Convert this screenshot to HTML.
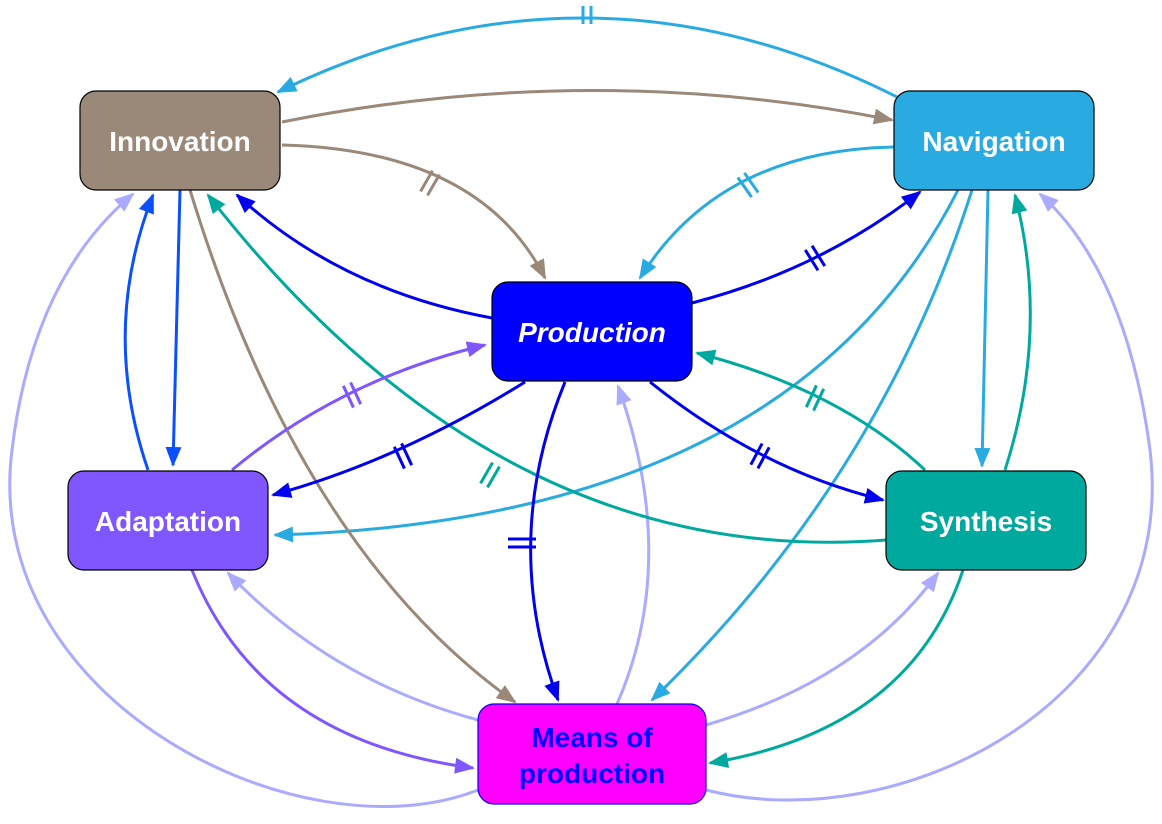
<!DOCTYPE html>
<html><head><meta charset="utf-8"><style>
body{margin:0;background:#fff;}
svg{display:block;}
.n{stroke:#000;stroke-width:1.2;}
text{font-family:"Liberation Sans",sans-serif;font-size:28px;font-weight:bold;fill:#fff;text-anchor:middle;}
path{fill:none;stroke-width:3;}
.t line{stroke-width:3;}
</style></head><body>
<svg width="1162" height="824" viewBox="0 0 1162 824" xmlns="http://www.w3.org/2000/svg">
<defs>
<marker id="acy" markerWidth="20" markerHeight="16" refX="18" refY="8" orient="auto" markerUnits="userSpaceOnUse"><path d="M0,0 L20,8 L0,16 z" style="fill:#29abe2;stroke:none"/></marker>
<marker id="abr" markerWidth="20" markerHeight="16" refX="18" refY="8" orient="auto" markerUnits="userSpaceOnUse"><path d="M0,0 L20,8 L0,16 z" style="fill:#9a8878;stroke:none"/></marker>
<marker id="abl" markerWidth="20" markerHeight="16" refX="18" refY="8" orient="auto" markerUnits="userSpaceOnUse"><path d="M0,0 L20,8 L0,16 z" style="fill:#0000ee;stroke:none"/></marker>
<marker id="ab2" markerWidth="20" markerHeight="16" refX="18" refY="8" orient="auto" markerUnits="userSpaceOnUse"><path d="M0,0 L20,8 L0,16 z" style="fill:#0a50ff;stroke:none"/></marker>
<marker id="apu" markerWidth="20" markerHeight="16" refX="18" refY="8" orient="auto" markerUnits="userSpaceOnUse"><path d="M0,0 L20,8 L0,16 z" style="fill:#7f56ff;stroke:none"/></marker>
<marker id="ate" markerWidth="20" markerHeight="16" refX="18" refY="8" orient="auto" markerUnits="userSpaceOnUse"><path d="M0,0 L20,8 L0,16 z" style="fill:#00a99d;stroke:none"/></marker>
<marker id="ala" markerWidth="20" markerHeight="16" refX="18" refY="8" orient="auto" markerUnits="userSpaceOnUse"><path d="M0,0 L20,8 L0,16 z" style="fill:#aaaaff;stroke:none"/></marker>
</defs>
<g style="stroke:#aaaaff">
<path d="M617 704 Q680 560 618 386" marker-end="url(#ala)"/>
<path d="M478 720 Q330 680 228 573" marker-end="url(#ala)"/>
<path d="M706 725 Q860 680 938 573" marker-end="url(#ala)"/>
<path d="M478 790 C300 860 -20 700 12 450 C30 300 90 230 133 194" marker-end="url(#ala)"/>
<path d="M706 790 C900 840 1180 700 1150 450 C1130 300 1080 230 1040 194" marker-end="url(#ala)"/>
</g>
<g style="stroke:#29abe2">
<path d="M903 100 Q590 -60 278 92" marker-end="url(#acy)"/>
<path d="M894 147 Q720 150 640 278" marker-end="url(#acy)"/>
<path d="M958 190 Q790 520 275 535" marker-end="url(#acy)"/>
<path d="M972 190 Q880 480 652 700" marker-end="url(#acy)"/>
<path d="M988 190 L982 466" marker-end="url(#acy)"/>
</g>
<g style="stroke:#9a8878">
<path d="M282 122 Q590 60 892 120" marker-end="url(#abr)"/>
<path d="M282 145 Q480 150 545 278" marker-end="url(#abr)"/>
<path d="M190 190 Q300 550 515 702" marker-end="url(#abr)"/>
</g>
<g style="stroke:#00a99d">
<path d="M925 470 Q840 390 697 353" marker-end="url(#ate)"/>
<path d="M886 540 Q500 570 208 195" marker-end="url(#ate)"/>
<path d="M1005 470 Q1050 330 1015 195" marker-end="url(#ate)"/>
<path d="M963 570 Q910 730 710 763" marker-end="url(#ate)"/>
</g>
<g style="stroke:#7f56ff">
<path d="M232 470 Q340 380 485 345" marker-end="url(#apu)"/>
<path d="M192 570 Q260 740 473 768" marker-end="url(#apu)"/>
</g>
<g style="stroke:#0000ee">
<path d="M492 318 Q340 290 237 195" marker-end="url(#abl)"/>
<path d="M692 303 Q820 270 920 192" marker-end="url(#abl)"/>
<path d="M525 382 Q400 460 273 495" marker-end="url(#abl)"/>
<path d="M650 382 Q760 470 883 500" marker-end="url(#abl)"/>
<path d="M565 382 Q500 540 558 700" marker-end="url(#abl)"/>
</g>
<g style="stroke:#0a50ff">
<path d="M180 190 L173 465" marker-end="url(#ab2)"/>
<path d="M148 470 Q100 330 153 195" marker-end="url(#ab2)"/>
</g>
<g class="t">
<g transform="translate(587,15) rotate(0)" stroke="#29abe2"><line x1="-4" y1="-9" x2="-4" y2="9"/><line x1="4" y1="-9" x2="4" y2="9"/></g>
<g transform="translate(430,183) rotate(30)" stroke="#9a8878"><line x1="-4" y1="-12" x2="-4" y2="12"/><line x1="4" y1="-12" x2="4" y2="12"/></g>
<g transform="translate(748,185) rotate(-35)" stroke="#29abe2"><line x1="-4" y1="-12" x2="-4" y2="12"/><line x1="4" y1="-12" x2="4" y2="12"/></g>
<g transform="translate(815,258) rotate(-32)" stroke="#0000ee"><line x1="-4" y1="-12" x2="-4" y2="12"/><line x1="4" y1="-12" x2="4" y2="12"/></g>
<g transform="translate(403,456) rotate(-25)" stroke="#0000ee"><line x1="-4" y1="-12" x2="-4" y2="12"/><line x1="4" y1="-12" x2="4" y2="12"/></g>
<g transform="translate(760,456) rotate(28)" stroke="#0000ee"><line x1="-4" y1="-12" x2="-4" y2="12"/><line x1="4" y1="-12" x2="4" y2="12"/></g>
<g transform="translate(522,543) rotate(90)" stroke="#0000ee"><line x1="-4" y1="-14" x2="-4" y2="14"/><line x1="4" y1="-14" x2="4" y2="14"/></g>
<g transform="translate(352,395) rotate(-25)" stroke="#7f56ff"><line x1="-4" y1="-12" x2="-4" y2="12"/><line x1="4" y1="-12" x2="4" y2="12"/></g>
<g transform="translate(815,398) rotate(25)" stroke="#00a99d"><line x1="-4" y1="-12" x2="-4" y2="12"/><line x1="4" y1="-12" x2="4" y2="12"/></g>
<g transform="translate(490,475) rotate(30)" stroke="#00a99d"><line x1="-4" y1="-12" x2="-4" y2="12"/><line x1="4" y1="-12" x2="4" y2="12"/></g>
</g>
<rect class="n" x="80" y="91" width="200" height="99" rx="16" fill="#9a8878"/>
<text x="180" y="151">Innovation</text>
<rect class="n" x="894" y="91" width="200" height="99" rx="16" fill="#29abe2"/>
<text x="994" y="151">Navigation</text>
<rect class="n" x="492" y="282" width="200" height="99" rx="16" fill="#0000ff"/>
<text x="592" y="342" style="font-style:italic">Production</text>
<rect class="n" x="68" y="471" width="200" height="99" rx="16" fill="#7f56ff"/>
<text x="168" y="531">Adaptation</text>
<rect class="n" x="886" y="471" width="200" height="99" rx="16" fill="#00a99d"/>
<text x="986" y="531">Synthesis</text>
<rect x="478" y="704" width="228" height="100" rx="16" fill="#ff00ff" stroke="#0000ff" stroke-width="1.2"/>
<text x="592" y="747" style="fill:#0000ff">Means of</text>
<text x="592" y="783" style="fill:#0000ff">production</text>
</svg>
</body></html>
